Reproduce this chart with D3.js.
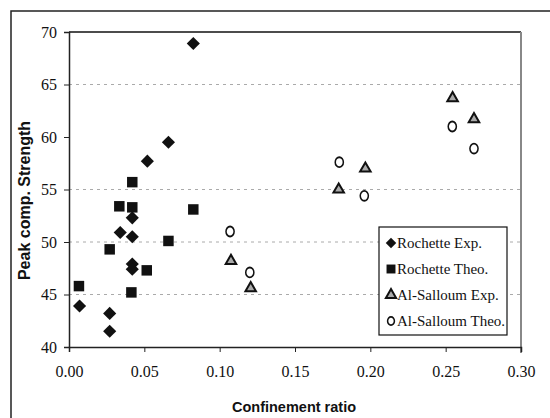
<!DOCTYPE html>
<html lang="en">
<head>
    <meta charset="UTF-8">
    <title>Peak comp. Strength vs Confinement ratio</title>
    <script src="https://d3js.org/d3.v7.min.js"></script>
    <style>
        body {
            margin: 0;
            background: #fff;
        }
        .tick-label {
            font-family: "Liberation Serif", "Times New Roman", serif;
            font-size: 16px;
            fill: #111;
        }
        .axis-title {
            font-family: "Liberation Sans", Arial, sans-serif;
            font-weight: bold;
            fill: #111;
        }
        .legend-text {
            font-family: "Liberation Serif", "Times New Roman", serif;
            font-size: 15px;
            fill: #111;
        }
    </style>
</head>
<body>
    <div id="chart"></div>

    <script>
        // Data: [confinement ratio, peak comp. strength]
        const rochetteExp = [
            [0.007, 43.9], [0.027, 43.2], [0.027, 41.5], [0.034, 50.9],
            [0.042, 50.5], [0.042, 52.3], [0.042, 47.9], [0.042, 47.4],
            [0.052, 57.7], [0.066, 59.5], [0.0825, 68.9]
        ];
        const rochetteTheo = [
            [0.0066, 45.8], [0.027, 49.3], [0.0334, 53.4], [0.042, 53.3],
            [0.042, 55.7], [0.0414, 45.2], [0.0516, 47.3], [0.066, 50.1],
            [0.0825, 53.1]
        ];
        const alSalloumExp = [
            [0.1075, 48.2], [0.1206, 45.6], [0.179, 55.0], [0.1967, 57.0],
            [0.2546, 63.7], [0.2688, 61.7]
        ];
        const alSalloumTheo = [
            [0.1069, 51.0], [0.120, 47.1], [0.1794, 57.6], [0.196, 54.4],
            [0.2544, 61.0], [0.2688, 58.9]
        ];
        const seriesNames = ["Rochette Exp.", "Rochette Theo.", "Al-Salloum Exp.", "Al-Salloum Theo."];
        const xTicks = [0, 0.05, 0.10, 0.15, 0.20, 0.25, 0.30];
        const yTicks = [40, 45, 50, 55, 60, 65, 70];
        const gridValues = [45, 50, 55, 65]; // the 60 line is missing in the original

        const width = 550, height = 418;
        const margin = { top: 32, right: 29, bottom: 71, left: 69 };

        const svg = d3.select("#chart")
            .append("svg")
            .attr("width", width)
            .attr("height", height);

        // outer frame (only top and left edges visible in the crop)
        svg.append("path")
            .attr("d", `M11,${height} L11,11 L${width},11`)
            .attr("fill", "none")
            .attr("stroke", "#222")
            .attr("stroke-width", 1.5);

        const x = d3.scaleLinear().domain([0, 0.3]).range([margin.left, width - margin.right]);
        const y = d3.scaleLinear().domain([40, 70]).range([height - margin.bottom, margin.top]);

        // gridlines
        svg.append("g")
            .selectAll("line")
            .data(gridValues)
            .join("line")
            .attr("x1", x(0))
            .attr("x2", x(0.3))
            .attr("y1", d => y(d))
            .attr("y2", d => y(d))
            .attr("stroke", "#aaa")
            .attr("stroke-width", 1)
            .attr("stroke-dasharray", "3,4");

        // top and right border of plot area
        svg.append("line")
            .attr("x1", x(0)).attr("x2", x(0.3))
            .attr("y1", y(70)).attr("y2", y(70))
            .attr("stroke", "#111").attr("stroke-width", 1.5);
        svg.append("line")
            .attr("x1", x(0.3)).attr("x2", x(0.3))
            .attr("y1", y(70)).attr("y2", y(40) + 6)
            .attr("stroke", "#888").attr("stroke-width", 2);

        // x axis
        const xAxis = svg.append("g")
            .attr("transform", `translate(0,${y(40)})`)
            .call(d3.axisBottom(x).tickValues(xTicks).tickFormat(d3.format(".2f")).tickSize(5).tickPadding(14));
        xAxis.select(".domain").attr("stroke", "#222").attr("stroke-width", 1.5);
        xAxis.selectAll(".tick line").attr("stroke", "#222");
        xAxis.selectAll(".tick text").attr("class", "tick-label").attr("font-family", null).attr("font-size", null);

        // y axis
        const yAxis = svg.append("g")
            .attr("transform", `translate(${x(0)},0)`)
            .call(d3.axisLeft(y).tickValues(yTicks).tickSize(5).tickPadding(7));
        yAxis.select(".domain").attr("stroke", "#222").attr("stroke-width", 1.5);
        yAxis.selectAll(".tick line").attr("stroke", "#222");
        yAxis.selectAll(".tick text").attr("class", "tick-label").attr("font-family", null).attr("font-size", null);

        // axis titles
        svg.append("text")
            .attr("class", "axis-title")
            .attr("x", 294)
            .attr("y", 412)
            .attr("text-anchor", "middle")
            .style("font-size", "14.5px")
            .text("Confinement ratio");

        svg.append("text")
            .attr("class", "axis-title")
            .attr("transform", `translate(30,${(y(40) + y(70)) / 2 + 11}) rotate(-90)`)
            .attr("text-anchor", "middle")
            .style("font-size", "16px")
            .text("Peak comp. Strength");

        // marker styles
        const markers = [
            { sym: d3.symbol().type(d3.symbolDiamond2).size(110), fill: "#111", stroke: "none", sw: 0 },
            { sym: d3.symbol().type(d3.symbolSquare).size(110), fill: "#111", stroke: "none", sw: 0 },
            { sym: d3.symbol().type(d3.symbolTriangle).size(48), fill: "#aaa", stroke: "#111", sw: 2 },
            { sym: d3.symbol().type(d3.symbolCircle).size(64), fill: "none", stroke: "#111", sw: 1.7 }
        ];
        const allSeries = [rochetteExp, rochetteTheo, alSalloumExp, alSalloumTheo];

        allSeries.forEach((data, i) => {
            const m = markers[i];
            svg.append("g")
                .selectAll("path")
                .data(data)
                .join("path")
                .attr("transform", d => `translate(${x(d[0])},${y(d[1])})${i === 3 ? " scale(0.9,1.1)" : ""}`)
                .attr("d", m.sym)
                .attr("fill", m.fill)
                .attr("stroke", m.stroke)
                .attr("stroke-width", m.sw);
        });

        // legend
        const legend = svg.append("g").attr("transform", "translate(379,227)");
        legend.append("rect")
            .attr("width", 128)
            .attr("height", 108)
            .attr("fill", "#fff")
            .attr("stroke", "#111")
            .attr("stroke-width", 1.2);

        const legendSymbols = [
            d3.symbol().type(d3.symbolDiamond2).size(70),
            d3.symbol().type(d3.symbolSquare).size(80),
            d3.symbol().type(d3.symbolTriangle).size(45),
            d3.symbol().type(d3.symbolCircle).size(45)
        ];
        seriesNames.forEach((name, i) => {
            const row = legend.append("g").attr("transform", `translate(0,${16 + i * 26})`);
            row.append("path")
                .attr("transform", `translate(12,0)${i === 3 ? " scale(0.9,1.1)" : ""}`)
                .attr("d", legendSymbols[i])
                .attr("fill", markers[i].fill)
                .attr("stroke", markers[i].stroke)
                .attr("stroke-width", markers[i].sw);
            row.append("text")
                .attr("class", "legend-text")
                .attr("x", 18)
                .attr("y", 5)
                .text(name);
        });
    </script>
</body>
</html>
